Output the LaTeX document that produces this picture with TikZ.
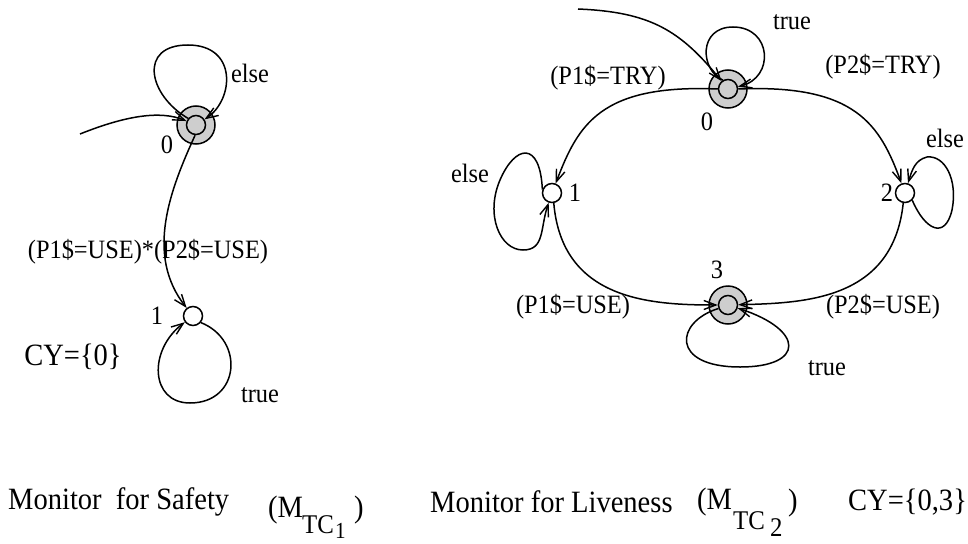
\documentclass[tikz,border=0pt]{standalone}
\usepackage{fontspec}
\setmainfont[FakeStretch=0.92]{Liberation Serif}
\usetikzlibrary{arrows.meta}
\definecolor{ringgray}{RGB}{206,206,206}
\tikzset{
  lbl/.style={inner sep=0pt, font=\fontsize{26.5}{30}\selectfont},
  big/.style={inner sep=0pt, font=\fontsize{31}{34}\selectfont},
  sub/.style={inner sep=0pt, font=\fontsize{27}{29}\selectfont},
  subsub/.style={inner sep=0pt, font=\fontsize{23}{25}\selectfont},
  st/.style={circle, draw, line width=1.5pt, minimum size=19pt, inner sep=0pt},
  ring/.style={circle, draw, line width=1.5pt, fill=ringgray, minimum size=38pt, inner sep=0pt},
  inner/.style={circle, draw, line width=1.5pt, fill=ringgray, minimum size=19pt, inner sep=0pt},
  edge/.style={line width=1.5pt, -{Straight Barb[length=12pt,width=9pt,line width=1.4pt]}},
}
\begin{document}
\begin{tikzpicture}[x=1pt,y=-1pt]
\useasboundingbox (0,0) rectangle (968,543);
% ---------- left monitor ----------
\node[ring] (L0o) at (196,125) {};
\node[inner] (L0) at (196,125) {};
\node[st] (L1) at (193,316) {};
\coordinate (Li) at (80,134);
\draw[edge] (Li) .. controls (125,116) and (160,110) .. (L0);
\draw[edge] (L0.140) .. controls (148,95) and (138,45) .. (188,45) .. controls (238,45) and (234,100) .. (L0);
\draw[edge] (L0.-95) .. controls (170,190) and (145,255) .. (L1);
\draw[edge] (L1.-40) .. controls (245,340) and (240,403) .. (190,403) .. controls (150,403) and (148,350) .. (L1);
\node[lbl] (tL0) at (167,145) {0};
\node[lbl] (tLelse) at (250,73) {else};
\node[lbl] (tL1) at (157,316) {1};
\node[lbl] (tLuse) at (148,252) {(P1\$=USE)*(P2\$=USE)};
\node[big] (tLcy) at (73,357) {CY=\{0\}};
\node[lbl] (tLtrue) at (260,395) {true};
% ---------- right monitor ----------
\node[ring] (R0o) at (728,89) {};
\node[inner] (R0) at (728,89) {};
\node[st] (R1) at (552,193) {};
\node[st] (R2) at (905,193) {};
\node[ring] (R3o) at (728,305) {};
\node[inner] (R3) at (728,305) {};
\coordinate (Ri) at (578,9);
\draw[edge] (Ri) .. controls (650,12) and (680,30) .. (R0);
\draw[edge] (R0.120) .. controls (700,70) and (698,27) .. (733,27) .. controls (772,27) and (775,78) .. (R0);
\draw[edge] (R0.180) .. controls (600,84) and (578,125) .. (R1);
\draw[edge] (R0.0) .. controls (856,84) and (880,125) .. (R2);
\draw[edge] (R1.-80) .. controls (562,300) and (650,305) .. (R3);
\draw[edge] (R2.-100) .. controls (893,300) and (805,303) .. (R3);
\draw[edge] (R1.160) .. controls (540,140) and (515,145) .. (500,180) .. controls (485,215) and (500,250) .. (523,250) .. controls (545,250) and (540,228) .. (R1);
\draw[edge] (R2.-45) .. controls (925,230) and (945,240) .. (952,210) .. controls (958,180) and (945,155) .. (927,157) .. controls (915,160) and (912,170) .. (R2);
\draw[edge] (R3.-160) .. controls (675,322) and (670,367) .. (740,367) .. controls (805,367) and (805,330) .. (R3);
\node[lbl] (tR0) at (707,122) {0};
\node[lbl] (tRtrue) at (792,22) {true};
\node[lbl] (tRtry1) at (608,78) {(P1\$=TRY)};
\node[lbl] (tRtry2) at (883,67) {(P2\$=TRY)};
\node[lbl] (tR1) at (575,193) {1};
\node[lbl] (tR2) at (887,193) {2};
\node[lbl] (tRelse1) at (470,173) {else};
\node[lbl] (tRelse2) at (945,138) {else};
\node[lbl] (tR3) at (717,270) {3};
\node[lbl] (tRuse1) at (573,307) {(P1\$=USE)};
\node[lbl] (tRuse2) at (883,307) {(P2\$=USE)};
\node[lbl] (tRtrue3) at (827,368) {true};
% ---------- captions ----------
\node[big, anchor=west] (cap1) at (8,502) {Monitor\ \ for Safety};
\node[big, anchor=west] (m1a) at (268,510) {(M};
\node[sub, anchor=west] (m1b) at (302,525) {TC};
\node[subsub, anchor=west] (m1c) at (335,531) {1};
\node[big, anchor=west] (m1d) at (354,510) {)};
\node[big, anchor=west] (cap2) at (430,502) {Monitor for Liveness};
\node[big, anchor=west] (m2a) at (697,502) {(M};
\node[sub, anchor=west] (m2b) at (733,521) {TC};
\node[sub, anchor=west] (m2c) at (770,528) {2};
\node[big, anchor=west] (m2d) at (788,503) {)};
\node[big, anchor=west] (cy2) at (848,502) {CY=\{0,3\}};
\end{tikzpicture}
\end{document}
